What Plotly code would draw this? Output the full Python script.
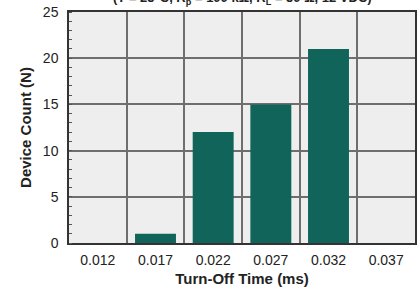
import plotly.graph_objects as go

categories = ["0.012", "0.017", "0.022", "0.027", "0.032", "0.037"]
counts = [0, 1, 12, 15, 21, 0]
y_ticks = [0, 5, 10, 15, 20, 25]

bar_color = "#10645a"
grid_color = "#6e6e6e"
font_family = "Liberation Sans, Arial, Helvetica, sans-serif"

fig = go.Figure()
fig.add_trace(go.Bar(x=categories, y=counts, marker=dict(color=bar_color, line=dict(width=0))))

fig.update_layout(
    width=417,
    height=290,
    margin=dict(l=69, r=2, t=12, b=47),
    paper_bgcolor="white",
    plot_bgcolor="#eeeeee",
    bargap=0.29,
    showlegend=False,
    font=dict(family=font_family, color="#222222", size=14),
)

fig.update_xaxes(
    type="category",
    automargin=False,
    tickson="boundaries",
    showgrid=True,
    gridcolor=grid_color,
    gridwidth=1.5,
    ticks="",
    ticklabelstandoff=3,
    tickfont=dict(size=14),
    showline=True,
    linecolor="#333333",
    linewidth=1.5,
    mirror=True,
    title=dict(text="<b>Turn-Off Time (ms)</b>", font=dict(size=15), standoff=7),
)

fig.update_yaxes(
    range=[0, 25],
    automargin=False,
    tickvals=y_ticks,
    showgrid=True,
    gridcolor=grid_color,
    gridwidth=1.5,
    zeroline=False,
    ticks="",
    ticklabelstandoff=6,
    tickfont=dict(size=14),
    showline=True,
    linecolor="#333333",
    linewidth=1.5,
    mirror=True,
    minor=dict(dtick=1, ticks="inside", ticklen=3, tickcolor="#555555", showgrid=False),
    title=dict(text="<b>Device Count (N)</b>", font=dict(size=15), standoff=8),
)

fig.add_annotation(
    text="<b>(T = 25°C, R<sub>p</sub> = 100 kΩ, R<sub>L</sub> = 50 Ω, 12 VDC)</b>",
    xref="paper", yref="paper", x=0.5, y=1, xanchor="center", yanchor="bottom",
    yshift=3, showarrow=False, font=dict(size=13, family=font_family, color="#222222"),
)

fig.write_html(
    "out.html",
    config={"displayModeBar": False},
    post_script="document.body.style.margin='0';",
)
